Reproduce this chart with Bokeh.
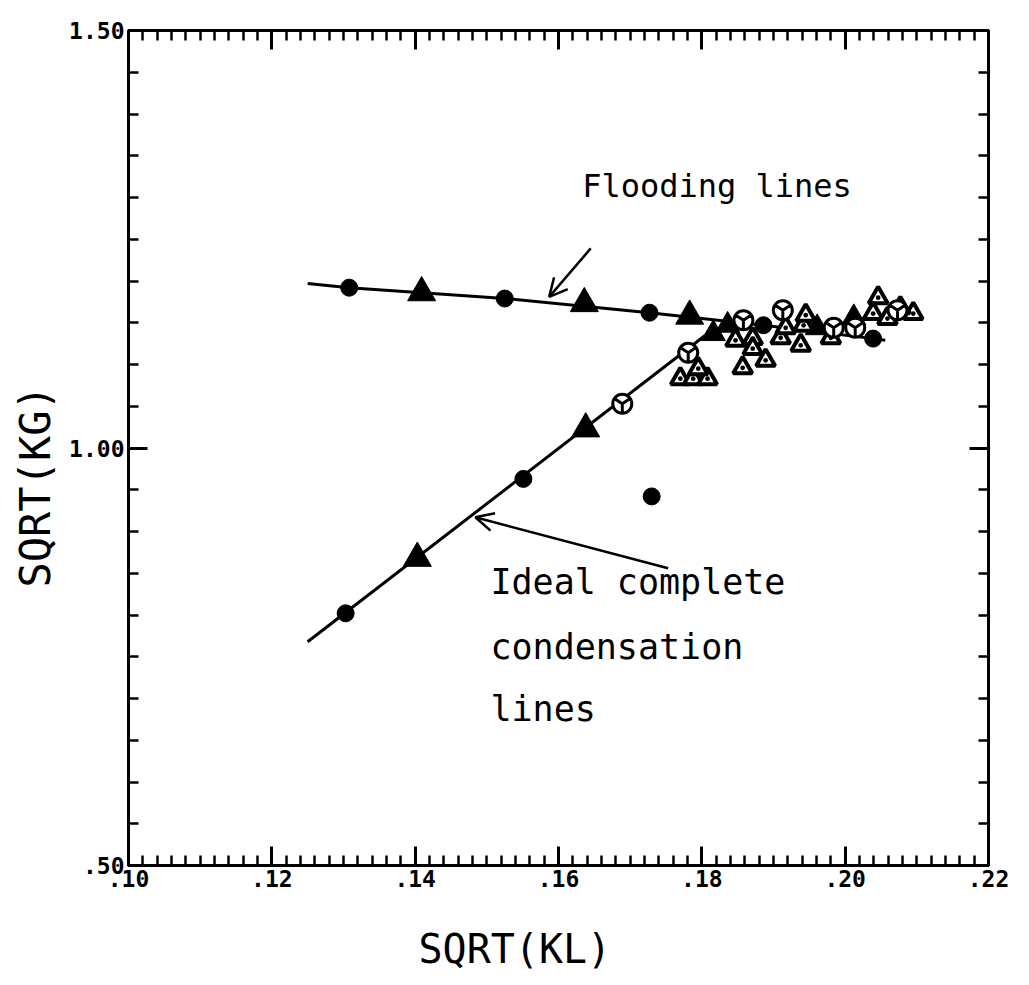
import numpy as np
from bokeh.plotting import figure
from bokeh.models import Range1d, LinearAxis, FixedTicker, Arrow, OpenHead, Label, Title
from bokeh.embed import file_html
from bokeh.resources import INLINE

# ---------------- data ----------------
x_ticks = [0.10, 0.12, 0.14, 0.16, 0.18, 0.20, 0.22]
x_tick_labels = [".10", ".12", ".14", ".16", ".18", ".20", ".22"]
y_ticks = [0.50, 1.00, 1.50]
y_tick_labels = [".50", "1.00", "1.50"]

# flooding line
flood_line_x = [0.1250, 0.1308, 0.1525, 0.1727, 0.1886, 0.2039, 0.2056]
flood_line_y = [1.197, 1.192, 1.179, 1.162, 1.147, 1.131, 1.129]
flood_circle_x = [0.1308, 0.1525, 0.1727, 0.1886, 0.2039]
flood_circle_y = [1.192, 1.179, 1.162, 1.147, 1.131]
flood_tri_x = [0.1409, 0.1636, 0.1783]
flood_tri_y = [1.186, 1.173, 1.158]

# ideal complete condensation line
cond_line_x = [0.1250, 0.1805]
cond_line_y = [0.768, 1.135]
cond_circle_x = [0.1303, 0.1551]
cond_circle_y = [0.802, 0.963]
cond_tri_x = [0.1403, 0.1638]
cond_tri_y = [0.868, 1.023]

# experimental points (open symbols) and filled triangles in the cluster
open_circle_x = [0.1689, 0.1781, 0.1858, 0.1913, 0.1984, 0.2014, 0.2073]
open_circle_y = [1.053, 1.114, 1.153, 1.165, 1.144, 1.144, 1.165]
open_tri_x = [0.1770, 0.1788, 0.1808, 0.1795, 0.1847, 0.1871, 0.1871, 0.1889, 0.1857,
              0.1910, 0.1938, 0.1917, 0.1942, 0.1945, 0.1980, 0.2046, 0.2039, 0.2059,
              0.2095, 0.2077]
open_tri_y = [1.083, 1.083, 1.083, 1.095, 1.129, 1.131, 1.119, 1.105, 1.096,
              1.132, 1.123, 1.144, 1.147, 1.159, 1.132, 1.180, 1.161, 1.155,
              1.161, 1.168]
cluster_tri_x = [0.1816, 0.1836, 0.1961, 0.2012]
cluster_tri_y = [1.137, 1.147, 1.144, 1.156]
stray_x = [0.1730]
stray_y = [0.942]

FONT = "DejaVu Sans Mono"

p = figure(width=1029, height=985, x_range=Range1d(0.10, 0.22), y_range=Range1d(0.50, 1.50),
           output_backend="svg", toolbar_location=None,
           min_border_left=128, min_border_right=41, min_border_top=30, min_border_bottom=120)
p.xgrid.visible = False
p.ygrid.visible = False
p.outline_line_color = "black"
p.outline_line_width = 3
p.background_fill_color = "white"
p.border_fill_color = "white"

x_minor = [round(0.10 + 0.002 * i, 3) for i in range(61)]
y_minor = [round(0.50 + 0.05 * i, 2) for i in range(21)]


def style_axis(ax, ticks, minor, labels, show_labels):
    ax.ticker = FixedTicker(ticks=ticks, minor_ticks=minor)
    ax.axis_line_color = "black"
    ax.axis_line_width = 3
    ax.major_tick_line_color = "black"
    ax.major_tick_line_width = 3
    ax.minor_tick_line_color = "black"
    ax.minor_tick_line_width = 2.5
    ax.major_tick_in = 19
    ax.major_tick_out = 0
    ax.minor_tick_in = 10
    ax.minor_tick_out = 0
    if show_labels:
        ax.major_label_overrides = dict(zip(ticks, labels))
        ax.major_label_text_font = FONT
        ax.major_label_text_font_style = "bold"
        ax.major_label_text_font_size = "23px"
        ax.major_label_text_color = "black"
        ax.major_label_standoff = 4
    else:
        ax.major_label_overrides = {t: "" for t in ticks}
        ax.major_label_text_font_size = "0px"
        ax.major_label_standoff = 0


xb = p.xaxis[0]
style_axis(xb, x_ticks, x_minor, x_tick_labels, True)
# blank spacer label to push the axis title a little lower
xb.axis_label = " "
xb.axis_label_text_font_size = "12px"
xb.axis_label_standoff = 8
yl = p.yaxis[0]
style_axis(yl, y_ticks, y_minor, y_tick_labels, True)

xt = LinearAxis()
style_axis(xt, x_ticks, x_minor, x_tick_labels, False)
p.add_layout(xt, "above")
yr = LinearAxis()
style_axis(yr, y_ticks, y_minor, y_tick_labels, False)
p.add_layout(yr, "right")

# axis titles, placed off-centre like the original
p.add_layout(Title(text="SQRT(KL)", align="left", offset=290, vertical_align="top",
                   standoff=22, text_font=FONT, text_font_size="40px",
                   text_font_style="normal", text_color="black"), "below")
p.add_layout(Title(text="SQRT(KG)", align="left", offset=278, vertical_align="top",
                   standoff=10, text_font=FONT, text_font_size="42px",
                   text_font_style="normal", text_color="black"), "left")

# lines
p.line(flood_line_x, flood_line_y, line_color="black", line_width=3)
p.line(cond_line_x, cond_line_y, line_color="black", line_width=3)

# filled circles
p.scatter(flood_circle_x, flood_circle_y, marker="circle", size=17, fill_color="black", line_color="black")
p.scatter(cond_circle_x, cond_circle_y, marker="circle", size=17, fill_color="black", line_color="black")
p.scatter(stray_x, stray_y, marker="circle", size=17, fill_color="black", line_color="black")
# big filled triangles
p.scatter(flood_tri_x, flood_tri_y, marker="triangle", size=28, fill_color="black", line_color="black")
p.scatter(cond_tri_x, cond_tri_y, marker="triangle", size=28, fill_color="black", line_color="black")
p.scatter(cluster_tri_x, cluster_tri_y, marker="triangle", size=24, fill_color="black", line_color="black")
# open symbols
p.scatter(open_tri_x, open_tri_y, marker="triangle_dot", size=19, fill_color="white",
          line_color="black", line_width=4)
p.scatter(open_circle_x, open_circle_y, marker="circle_y", size=19, fill_color="white",
          line_color="black", line_width=3)

# arrows
p.add_layout(Arrow(end=OpenHead(size=18, line_width=2.5, line_color="black"),
                   x_start=0.1645, y_start=1.239, x_end=0.1587, y_end=1.181,
                   line_width=2.5, line_color="black"))
p.add_layout(Arrow(end=OpenHead(size=18, line_width=2.5, line_color="black"),
                   x_start=0.1753, y_start=0.856, x_end=0.1484, y_end=0.917,
                   line_width=2.5, line_color="black"))

# annotations
p.add_layout(Label(x=0.1633, y=1.314, text="Flooding lines", text_font=FONT,
                   text_font_size="32px", text_color="black", text_baseline="alphabetic"))
for txt, yy in [("Ideal complete", 0.840), ("condensation", 0.762), ("lines", 0.688)]:
    p.add_layout(Label(x=0.1505, y=yy, text=txt, text_font=FONT,
                       text_font_size="35px", text_color="black", text_baseline="alphabetic"))

open("out.html", "w").write(file_html(p, INLINE))
